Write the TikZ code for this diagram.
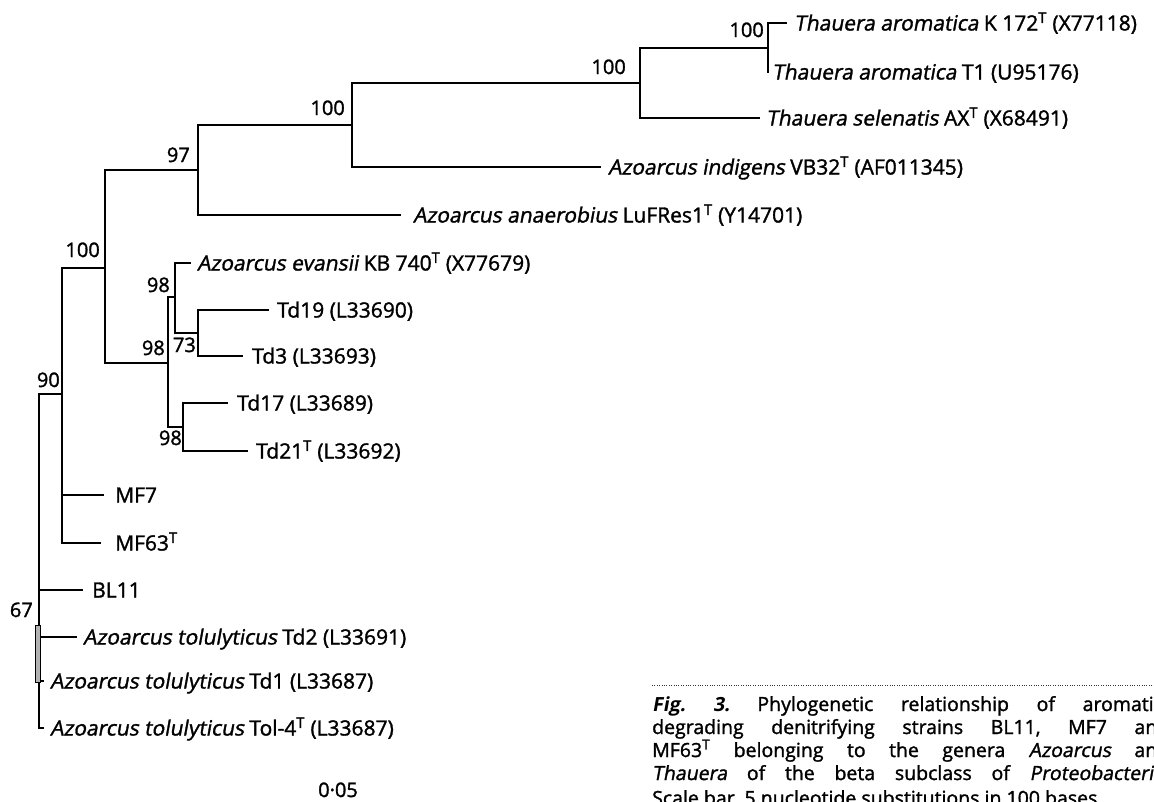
\documentclass[tikz,border=0pt]{standalone}
\usepackage{fontspec}
\setmainfont{Open Sans}[FakeBold=1.5, ItalicFont={Open Sans}, ItalicFeatures={FakeSlant=0.18}]
\newfontfamily\figfont{Open Sans}[BoldFeatures={FakeSlant=0.18}]
\newcommand{\Tsup}{\textsuperscript{T}}
\frenchspacing
\begin{document}
\begin{tikzpicture}[x=1pt,y=-1pt,
  branch/.style={line width=1.6pt, line cap=rect},
  leaf/.style={anchor=base west, inner sep=0pt, font=\fontsize{21}{25}\selectfont, yshift=-7.5pt, xshift=#1},
  leaf/.default=9pt,
  boot/.style={anchor=base east, inner sep=0pt, font=\fontsize{20}{24}\selectfont},
  captxt/.style={anchor=base west, inner sep=0pt, font=\fontsize{19.5}{23}\selectfont},
  scalelab/.style={anchor=base west, inner sep=0pt, font=\fontsize{20}{24}\selectfont}]
\useasboundingbox (0,0) rectangle (1154,801);
\clip (0,0) rectangle (1154,801);
% internal nodes
\coordinate (nA) at (768,48);
\coordinate (nB) at (640,83);
\coordinate (nC) at (352,125);
\coordinate (nD) at (198,170);
\coordinate (nE) at (105,268);
\coordinate (nH) at (168,363);
\coordinate (nF) at (175,297);
\coordinate (nG) at (198,333);
\coordinate (nI) at (183,427);
\coordinate (nJ) at (62,394);
\coordinate (nK) at (39,560);
% leaf tips
\coordinate (tK) at (786,23);
\coordinate (tT1) at (768,72);
\coordinate (tSel) at (759,118);
\coordinate (tInd) at (600,167);
\coordinate (tAna) at (400,215);
\coordinate (tEva) at (190,263);
\coordinate (tTd19) at (268,310);
\coordinate (tTd3) at (242,356);
\coordinate (tTd17) at (227,403);
\coordinate (tTd21) at (247,451);
\coordinate (tMF7) at (103,495);
\coordinate (tMF63) at (100,543);
\coordinate (tBL) at (82,590);
\coordinate (tTd2) at (76,637);
\coordinate (tTd1) at (43,681);
\coordinate (tTol) at (43,728);
% leaf labels
\node[leaf=8pt] (lK) at (tK) {\textit{Thauera aromatica} K 172\Tsup{} (X77118)};
\node[leaf=4pt] (lT1) at (tT1) {\textit{Thauera aromatica} T1 (U95176)};
\node[leaf=7pt] (lSel) at (tSel) {\textit{Thauera selenatis} AX\Tsup{} (X68491)};
\node[leaf=8pt] (lInd) at (tInd) {\textit{Azoarcus indigens} VB32\Tsup{} (AF011345)};
\node[leaf=13pt] (lAna) at (tAna) {\textit{Azoarcus anaerobius} LuFRes1\Tsup{} (Y14701)};
\node[leaf=7pt] (lEva) at (tEva) {\textit{Azoarcus evansii} KB 740\Tsup{} (X77679)};
\node[leaf=9pt] (lTd19) at (tTd19) {Td19 (L33690)};
\node[leaf=10pt] (lTd3) at (tTd3) {Td3 (L33693)};
\node[leaf=10pt] (lTd17) at (tTd17) {Td17 (L33689)};
\node[leaf=9pt] (lTd21) at (tTd21) {Td21\Tsup{} (L33692)};
\node[leaf=12pt] (lMF7) at (tMF7) {MF7};
\node[leaf=15pt] (lMF63) at (tMF63) {MF63\Tsup};
\node[leaf=10pt] (lBL) at (tBL) {BL11};
\node[leaf=7pt] (lTd2) at (tTd2) {\textit{Azoarcus tolulyticus} Td2 (L33691)};
\node[leaf=7pt] (lTd1) at (tTd1) {\textit{Azoarcus tolulyticus} Td1 (L33687)};
\node[leaf=7pt] (lTol) at (tTol) {\textit{Azoarcus tolulyticus} Tol-4\Tsup{} (L33687)};
% branches
\draw[branch] (nA) |- (tK);
\draw[branch] (nA) |- (tT1);
\draw[branch] (nB) |- (nA);
\draw[branch] (nB) |- (tSel);
\draw[branch] (nC) |- (nB);
\draw[branch] (nC) |- (tInd);
\draw[branch] (nD) |- (nC);
\draw[branch] (nD) |- (tAna);
\draw[branch] (nE) |- (nD);
\draw[branch] (nE) |- (nH);
\draw[branch] (nH) |- (nF);
\draw[branch] (nH) |- (nI);
\draw[branch] (nF) |- (tEva);
\draw[branch] (nF) |- (nG);
\draw[branch] (nG) |- (tTd19);
\draw[branch] (nG) |- (tTd3);
\draw[branch] (nI) |- (tTd17);
\draw[branch] (nI) |- (tTd21);
\draw[branch] (nJ) |- (nE);
\draw[branch] (nJ) |- (tMF7);
\draw[branch] (nJ) |- (tMF63);
\draw[branch] (nK) |- (nJ);
\draw[branch] (nK) |- (tBL);
\draw[branch] (nK) |- (tTol);
\node[draw, line width=0.7pt, fill=gray!60, minimum width=5pt, minimum height=57pt, inner sep=0pt] (S) at (37.5,653.5) {};
\draw[branch] (S.east |- tTd2) -- (tTd2);
\draw[branch] (S.east |- tTd1) -- (tTd1);
% bootstrap values
\node[boot] (bA) at (764,37) {100};
\node[boot] (bB) at (626,74) {100};
\node[boot] (bC) at (345,115) {100};
\node[boot] (bD) at (190,162) {97};
\node[boot] (bE) at (100,257) {100};
\node[boot] (bF) at (170,292) {98};
\node[boot] (bG) at (196,352) {73};
\node[boot] (bH) at (165,355) {98};
\node[boot] (bI) at (182,445) {98};
\node[boot] (bJ) at (60,387) {90};
\node[boot] (bK) at (33,617) {67};
% scale
\node[scalelab] (sc) at (318,797) {0·05};
% caption
\draw[line width=1pt, black!80, dash pattern=on 1pt off 1.4pt] (652,685) -- (1154,685);
\node[captxt] (c1) at (652,711) {\makebox[517pt][s]{{\figfont\bfseries Fig. 3.} Phylogenetic relationship of aromatic-}};
\node[captxt] (c2) at (652,734) {\makebox[517pt][s]{degrading denitrifying strains BL11, MF7 and}};
\node[captxt] (c3) at (652,757) {\makebox[517pt][s]{MF63\Tsup{} belonging to the genera \textit{Azoarcus} and}};
\node[captxt] (c4) at (652,780) {\makebox[517pt][s]{\textit{Thauera} of the beta subclass of \textit{Proteobacteria}.}};
\node[captxt] (c5) at (652,805) {Scale bar, 5 nucleotide substitutions in 100 bases.};
\end{tikzpicture}
\end{document}
